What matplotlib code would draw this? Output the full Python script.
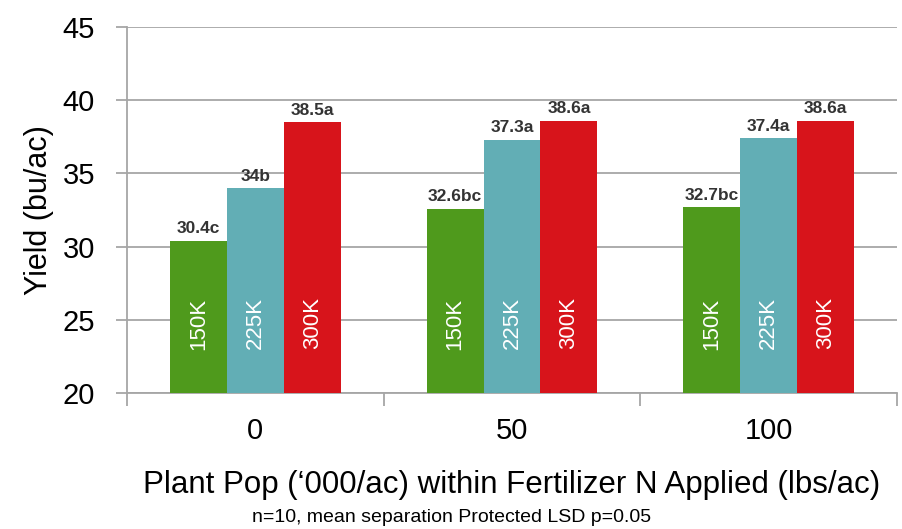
#!/usr/bin/env python3
# Yield by plant population within N rate - grouped bar chart
import numpy as np
import matplotlib
matplotlib.use('Agg')
import matplotlib.pyplot as plt

# === Data ===
n_rates = ['0', '50', '100']
populations = ['150K', '225K', '300K']
yield_150k = [30.4, 32.6, 32.7]
yield_225k = [34.0, 37.3, 37.4]
yield_300k = [38.5, 38.6, 38.6]
labels_150k = ['30.4c', '32.6bc', '32.7bc']
labels_225k = ['34b', '37.3a', '37.4a']
labels_300k = ['38.5a', '38.6a', '38.6a']

colors = ['#4f9a1c', '#62aeb5', '#d7141b']
grid_col = '#a6a6a6'

plt.rcParams['font.family'] = ['Liberation Sans', 'DejaVu Sans']

fig = plt.figure(figsize=(9.03, 5.29), dpi=100)
ax = fig.add_axes([0.1406, 0.257, 0.8528, 0.692])

x = np.arange(len(n_rates))
width = 0.222
series = [yield_150k, yield_225k, yield_300k]
texts = [labels_150k, labels_225k, labels_300k]

for i, (vals, labs) in enumerate(zip(series, texts)):
    pos = x + (i - 1) * width
    ax.bar(pos, np.array(vals) - 20, width=width, bottom=20, color=colors[i], zorder=3)
    for p, v, t in zip(pos, vals, labs):
        ax.text(p, v + 0.3, t, ha='center', va='bottom', fontsize=12.5,
                color='#333333', fontweight='bold', zorder=4)
        ax.text(p, 24.75, populations[i], ha='center', va='center', rotation=90,
                fontsize=16, color='white', zorder=4)

# === Axes styling ===
ax.set_ylim(20, 45)
ax.set_xlim(-0.5, 2.5)
ax.set_yticks([20, 25, 30, 35, 40, 45])
ax.yaxis.grid(True, color=grid_col, linewidth=1.3, zorder=0)
ax.set_axisbelow(True)

ax.set_xticks(x)
ax.set_xticklabels(n_rates, fontsize=21)
ax.set_xticks([-0.5, 0.5, 1.5, 2.5], minor=True)
ax.tick_params(axis='x', which='major', length=0, pad=17)
ax.tick_params(axis='x', which='minor', length=9, color=grid_col, width=1.3)
ax.tick_params(axis='y', length=8, color=grid_col, width=1.3, labelsize=21, pad=15)

for s in ['top', 'right']:
    ax.spines[s].set_visible(False)
for s in ['left', 'bottom']:
    ax.spines[s].set_color(grid_col)
    ax.spines[s].set_linewidth(1.3)

ax.set_ylabel('Yield (bu/ac)', fontsize=22, labelpad=6)
ax.set_xlabel("Plant Pop (‘000/ac) within Fertilizer N Applied (lbs/ac)", fontsize=22.5, labelpad=18)

fig.text(0.5, 0.022, 'n=10, mean separation Protected LSD p=0.05', ha='center',
         va='center', fontsize=14)

fig.savefig('out.png', dpi=100)
